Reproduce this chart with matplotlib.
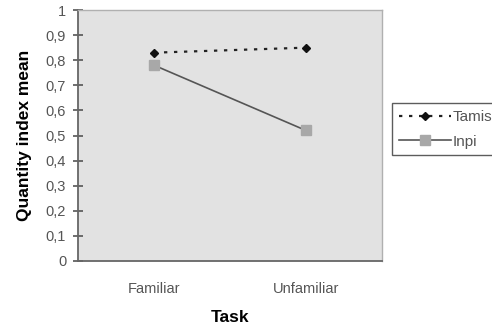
import matplotlib
matplotlib.use("Agg")
import matplotlib.pyplot as plt
from matplotlib.ticker import FuncFormatter

categories = ["Familiar", "Unfamiliar"]
tamis = [0.83, 0.85]
inpi = [0.78, 0.52]
yticks = [0, 0.1, 0.2, 0.3, 0.4, 0.5, 0.6, 0.7, 0.8, 0.9, 1.0]

plt.rcParams['font.family'] = ['Liberation Sans', 'DejaVu Sans']

fig = plt.figure(figsize=(4.92, 3.28), dpi=100)
ax = fig.add_axes([78/492, 1-261/328, 304/492, 251/328])
ax.set_facecolor('#e2e2e2')

x = list(range(len(categories)))
ax.plot(x, tamis, linestyle=(0, (1.5, 3)), color='#222222', lw=1.6,
        marker='D', markersize=4, markerfacecolor='#111111',
        markeredgecolor='#111111', label='Tamis')
ax.plot(x, inpi, linestyle='-', color='#555555', lw=1.2,
        marker='s', markersize=7, markerfacecolor='#a8a8a8',
        markeredgecolor='#a8a8a8', label='Inpi')

ax.set_xlim(-0.5, 1.5)
ax.set_ylim(0, 1)
ax.set_xticks(x)
ax.set_xticklabels(categories)
ax.set_yticks(yticks)
ax.yaxis.set_major_formatter(FuncFormatter(lambda v, p: ('%g' % round(v, 1)).replace('.', ',')))

ax.tick_params(axis='y', direction='inout', length=7, width=1.2, color='#555555',
               labelsize=10.5, labelcolor='#555555', pad=5)
ax.tick_params(axis='x', length=0, labelsize=10.5, labelcolor='#555555', pad=15)

for side in ['left', 'bottom']:
    ax.spines[side].set_color('#666666')
    ax.spines[side].set_linewidth(1.3)
for side in ['top', 'right']:
    ax.spines[side].set_color('#b0b0b0')
    ax.spines[side].set_linewidth(1.0)

ax.set_xlabel('Task', fontsize=12.5, fontweight='bold', labelpad=10)
ax.set_ylabel('Quantity index mean', fontsize=12.5, fontweight='bold')
ax.yaxis.set_label_coords(-(78-32)/304, 0.5)

leg = fig.legend(loc='upper left', bbox_to_anchor=(392/492, 1-103/328),
                 frameon=True, fancybox=False, fontsize=11, handlelength=3.4,
                 handletextpad=0.1, borderpad=0.45, labelspacing=0.7,
                 borderaxespad=0)
leg.get_frame().set_edgecolor('#333333')
leg.get_frame().set_linewidth(1.0)
for t in leg.get_texts():
    t.set_color('#555555')

fig.savefig('out.png', dpi=100)
